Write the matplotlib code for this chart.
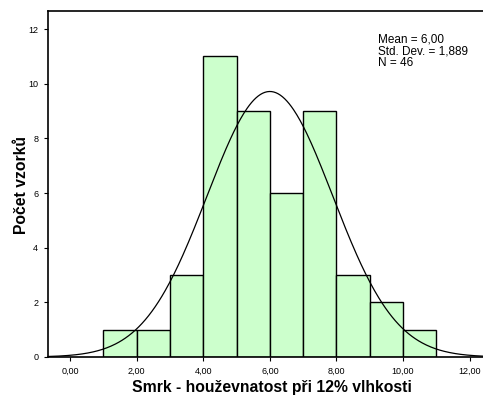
import numpy as np
import matplotlib
matplotlib.use("Agg")
import matplotlib.pyplot as plt

plt.rcParams['font.family'] = ['Liberation Sans', 'DejaVu Sans']

bin_edges = [1, 2, 3, 4, 5, 6, 7, 8, 9, 10, 11]
counts = [1, 1, 3, 11, 9, 6, 9, 3, 2, 1]
mean = 6.00
sd = 1.889
n = 46
xticks = [0, 2, 4, 6, 8, 10, 12]
xticklabels = ["0,00", "2,00", "4,00", "6,00", "8,00", "10,00", "12,00"]
yticks = [0, 2, 4, 6, 8, 10, 12]

fig = plt.figure(figsize=(4.83, 3.97), dpi=100)
ax = fig.add_axes([48/483, 1-357/397, 1-48/483+0.01, (357-11)/397])

lefts = bin_edges[:-1]
widths = np.diff(bin_edges)
ax.bar(lefts, counts, width=widths, align='edge', color='#ccffcc', edgecolor='black', linewidth=1.0, zorder=2)

xs = np.linspace(-0.67, 12.6, 400)
bw = 1.0
ys = n * bw / (sd * np.sqrt(2*np.pi)) * np.exp(-0.5*((xs-mean)/sd)**2)
ax.plot(xs, ys, color='black', linewidth=0.9, zorder=3)

ax.set_xlim(-0.667, 12.55)
ax.set_ylim(0, 12.66)
ax.set_xticks(xticks)
ax.set_xticklabels(xticklabels)
ax.set_yticks(yticks)
ax.tick_params(axis='both', labelsize=6.5, length=3, width=0.8, direction='out', pad=4, colors='black')
ax.spines['right'].set_visible(False)
for s in ['left', 'bottom', 'top']:
    ax.spines[s].set_linewidth(1.2)

fig.text(272/483, 1-392/397, 'Smrk - houževnatost při 12% vlhkosti', fontsize=11.3, fontweight='bold',
         ha='center', va='baseline')
fig.text(21.5/483, 1-184.5/397, 'Počet vzorků', fontsize=11.3, fontweight='bold',
         ha='center', va='center', rotation=90)

ax.text(378/483, 1-34/397, 'Mean = 6,00\nStd. Dev. = 1,889\nN = 46', transform=fig.transFigure,
        fontsize=8.5, va='top', ha='left', linespacing=0.95)

fig.savefig('out.png', dpi=100)
